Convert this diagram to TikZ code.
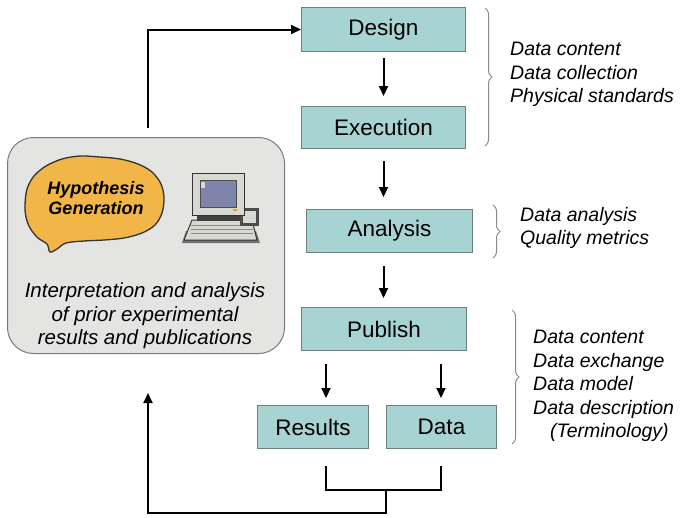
\documentclass[tikz,border=0pt]{standalone}
\usepackage{fontspec}
\setmainfont{Liberation Sans}
\usetikzlibrary{arrows.meta,decorations.pathreplacing}
\definecolor{stepfill}{HTML}{A7D4D3}
\definecolor{stepline}{HTML}{6F7F7F}
\definecolor{panelfill}{HTML}{E4E4E3}
\definecolor{panelline}{HTML}{7A7A7A}
\definecolor{brainfill}{HTML}{F2B648}
\definecolor{bracegray}{HTML}{8A8A8A}
\definecolor{screenblue}{HTML}{7F84AA}
\definecolor{casegray}{HTML}{D9D9D4}
\begin{document}
\begin{tikzpicture}[x=1pt,y=-1pt,
  stepbox/.style={draw=stepline,line width=1pt,fill=stepfill,anchor=north west,
    inner sep=0pt,font=\fontsize{22.5}{24}\selectfont},
  flow/.style={-{Triangle[length=10pt,width=9pt]},line width=2pt,black},
  link/.style={line width=2pt,black},
  notes/.style={anchor=north west,align=left,inner sep=0pt,
    font=\fontsize{19.5}{23.5}\selectfont\itshape},
  gbrace/.style={draw=bracegray,line width=1pt,decorate,
    decoration={brace,amplitude=7pt,raise=0pt}}]
\useasboundingbox (0,0) rectangle (682,517);

% process steps
\node[stepbox,minimum width=164pt,minimum height=44pt] (design) at (301,7) {Design};
\node[stepbox,minimum width=164pt,minimum height=42pt] (exec) at (301,106) {Execution};
\node[stepbox,minimum width=166pt,minimum height=43pt] (anal) at (306,209) {Analysis};
\node[stepbox,minimum width=165pt,minimum height=43pt] (pub) at (301,307) {Publish};
\node[stepbox,minimum width=111pt,minimum height=43pt] (res) at (257,405) {Results};
\node[stepbox,minimum width=110pt,minimum height=43pt] (data) at (386,405) {Data};

% prior knowledge panel
\node[draw=panelline,line width=1pt,fill=panelfill,rounded corners=26pt,
  anchor=north west,minimum width=277pt,minimum height=216pt,inner sep=0pt] (prior) at (7,137) {};
\node[align=center,font=\fontsize{20.5}{23.5}\selectfont\itshape,inner sep=0pt] (interp) at (145,316)
  {Interpretation and analysis\\of prior experimental\\results and publications};

% brain
\fill[brainfill,draw=black!80,line width=1.3pt]
  plot[smooth cycle,tension=0.55] coordinates {
   (25,205) (27,189) (34,176) (46,166) (62,159) (80,156) (100,157) (120,159)
   (138,164) (152,172) (161,184) (164,198) (162,213) (155,225) (142,233)
   (124,238) (104,240) (84,241) (66,243) (57,249) (50,252) (47,244) (38,238)
   (30,228) (26,217)};
\node[align=center,font=\fontsize{18}{19.5}\selectfont\bfseries\itshape,inner sep=0pt] (hyp) at (96,198)
  {Hypothesis\\Generation};

% computer
\fill[black!55] (186,231) -- (256,231) -- (260,243) -- (182,243) -- cycle;
\fill[casegray,draw=black!80,line width=1pt] (192,220) -- (252,220) -- (257,240) -- (184,240) -- cycle;
\foreach \r in {225,229,233}
  \draw[black!45,line width=0.7pt] (191,\r) -- (253,\r);
\fill[black!70] (240,208) rectangle (259,226);
\fill[casegray] (243,211) rectangle (256,223);
\fill[black!75] (197,214) rectangle (240,221);
\fill[casegray,draw=black!80,line width=1pt] (192,173) rectangle (244,215);
\fill[screenblue,draw=black!70,line width=0.8pt] (200,180) rectangle (236,207);
\fill[casegray] (201,182) rectangle (205,188);
\fill[orange!80!yellow] (233,209) rectangle (237,211);

% main flow
\draw[flow,shorten <=6pt,shorten >=10pt] (design.south) -- (design.south |- exec.north);
\draw[flow,shorten <=12pt,shorten >=12pt] (exec.south) -- (exec.south |- anal.north);
\draw[flow,shorten <=13pt,shorten >=9pt] (anal.south -| exec.south) -- (exec.south |- pub.north);
\coordinate (rt) at (326,0);
\coordinate (dt) at (441,0);
\draw[flow,shorten <=13pt,shorten >=7pt] (pub.south -| rt) -- (res.north -| rt);
\draw[flow,shorten <=13pt,shorten >=7pt] (pub.south -| dt) -- (data.north -| dt);

% merge of the outputs and feedback loop
\coordinate (rl) at (326,466);
\coordinate (dl) at (441,466);
\coordinate (mid) at (386,490);
\coordinate (fb) at (148,513);
\coordinate (up) at (148,393);
\coordinate (top) at (148,128);
\draw[link] (rl) |- (dl |- mid) -- (dl);
\draw[link] (mid) |- (fb) -- ++(0,-5);
\draw[flow] (fb) -- (up);
\draw[flow] (top) |- (design.west);

% annotations
\draw[gbrace] (485,8) -- (485,146);
\node[notes] (n1) at (510,42) {Data content\\Data collection\\Physical standards};
\draw[gbrace] (493,205) -- (493,258);
\node[notes] (n2) at (520,207) {Data analysis\\Quality metrics};
\draw[gbrace] (512,310) -- (512,444);
\node[notes] (n3) at (533,330) {Data content\\Data exchange\\Data model\\Data description\\\hspace*{17pt}(Terminology)};
\end{tikzpicture}
\end{document}
